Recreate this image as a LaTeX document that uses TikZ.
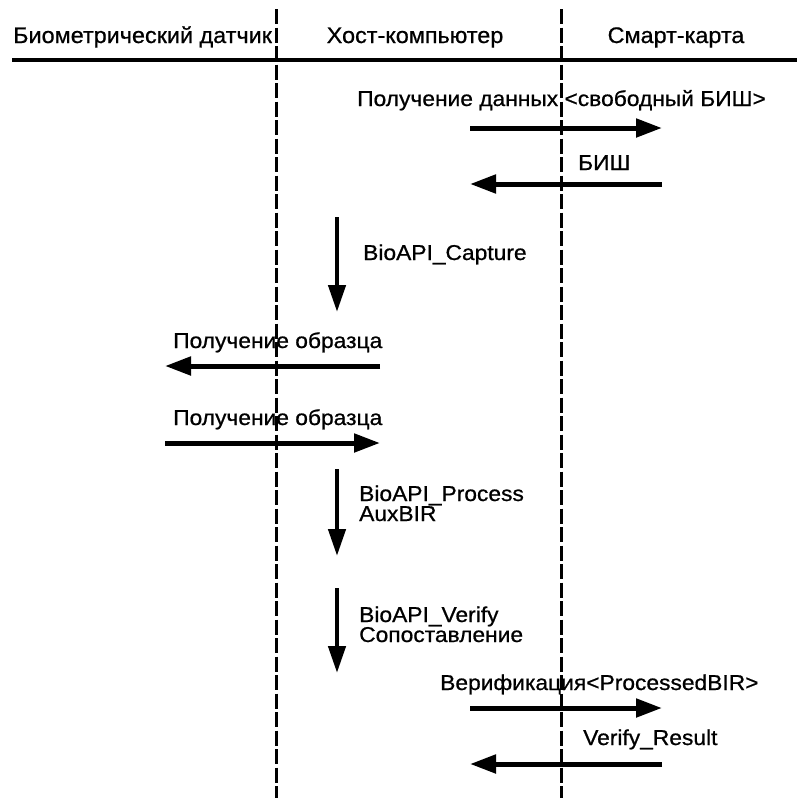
\documentclass[tikz,border=0pt]{standalone}
\usepackage{fontspec}
\setmainfont{Liberation Sans}[FakeBold=0.7]
\usetikzlibrary{arrows.meta}
\newcommand\bodytxt[1]{\scalebox{1.06}[1]{#1}}
\newcommand\hdrtxt[1]{\scalebox{1.04}[1]{#1}}
\begin{document}
\begin{tikzpicture}[x=1pt,y=-1pt,
  lbl/.style={anchor=base west,inner sep=0pt,font=\fontsize{21.5}{21.5}\selectfont},
  hdr/.style={anchor=base,inner sep=0pt,font=\fontsize{22.5}{22.5}\selectfont},
  lifeline/.style={line width=3pt,dash pattern=on 15pt off 3.5pt},
  msg/.style={line width=5pt,-{Triangle[length=26pt,width=18pt]}},
  self/.style={line width=4.5pt,-{Triangle[length=27pt,width=17pt]}}]
\useasboundingbox (0,0) rectangle (797,798);
% headers
\node[hdr,anchor=base west] (h1) at (13,43) {\hdrtxt{Биометрический датчик}};
\node[hdr] (h2) at (415,43) {\hdrtxt{Хост-компьютер}};
\node[hdr] (h3) at (676,43) {\hdrtxt{Смарт-карта}};
% header rule and lifelines
\coordinate (rl) at (12,60);
\coordinate (rr) at (797,60);
\draw[line width=4pt] (rl) -- (rr);
\coordinate (l1t) at (276,9);
\coordinate (l1b) at (276,798);
\coordinate (l2t) at (561,9);
\coordinate (l2b) at (561,798);
\draw[lifeline] (l1t) -- (l1b);
\draw[lifeline] (l2t) -- (l2b);
% message 1
\node[lbl] (t1) at (357,106) {\bodytxt{Получение данных <свободный БИШ>}};
\coordinate (a1s) at (470,128);
\coordinate (a1e) at (662,128);
\draw[msg] (a1s) -- (a1e);
% message 2
\node[lbl] (t2) at (578,170) {\bodytxt{БИШ}};
\coordinate (a2s) at (662,184);
\coordinate (a2e) at (470,184);
\draw[msg] (a2s) -- (a2e);
% capture
\node[lbl] (t3) at (363,260) {\bodytxt{BioAPI\_Capture}};
\coordinate (v1s) at (337,217);
\coordinate (v1e) at (337,312);
\draw[self] (v1s) -- (v1e);
% sample request
\node[lbl] (t4) at (173,348) {\bodytxt{Получение образца}};
\coordinate (a3s) at (380,366);
\coordinate (a3e) at (165,366);
\draw[msg] (a3s) -- (a3e);
% sample return
\node[lbl] (t5) at (173,425) {\bodytxt{Получение образца}};
\coordinate (a4s) at (165,443);
\coordinate (a4e) at (380,443);
\draw[msg] (a4s) -- (a4e);
% process
\node[lbl] (t6) at (359,501) {\bodytxt{BioAPI\_Process}};
\node[lbl] (t7) at (359,521) {\bodytxt{AuxBIR}};
\coordinate (v2s) at (337,469);
\coordinate (v2e) at (337,556);
\draw[self] (v2s) -- (v2e);
% verify
\node[lbl] (t8) at (359,622) {\bodytxt{BioAPI\_Verify}};
\node[lbl] (t9) at (359,642) {\bodytxt{Сопоставление}};
\coordinate (v3s) at (337,588);
\coordinate (v3e) at (337,673);
\draw[self] (v3s) -- (v3e);
% verification
\node[lbl] (t10) at (440,690) {\bodytxt{Верификация<ProcessedBIR>}};
\coordinate (a5s) at (470,708);
\coordinate (a5e) at (662,708);
\draw[msg] (a5s) -- (a5e);
% result
\node[lbl] (t11) at (583,745) {\bodytxt{Verify\_Result}};
\coordinate (a6s) at (662,764);
\coordinate (a6e) at (470,764);
\draw[msg] (a6s) -- (a6e);
\end{tikzpicture}
\end{document}
